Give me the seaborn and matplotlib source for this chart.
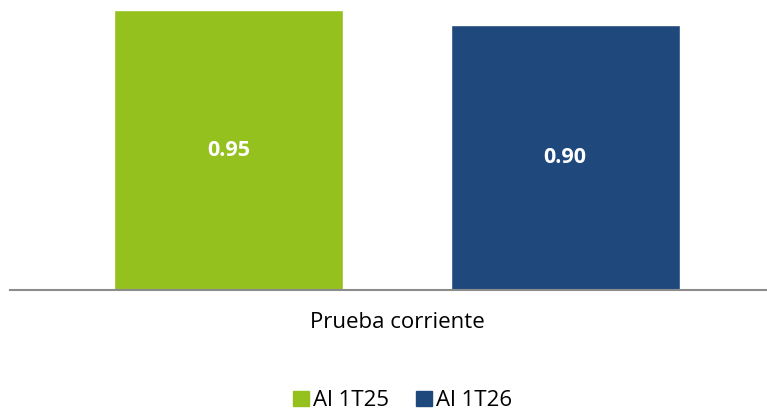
import pandas as pd
import seaborn as sns
import matplotlib.pyplot as plt

# data
categories = ['Prueba corriente']
series = ['Al 1T25', 'Al 1T26']
values = [0.95, 0.90]
colors = ['#95C11F', '#1F497D']

df = pd.DataFrame({
    'categoria': categories * len(series),
    'serie': series,
    'valor': values,
})

sns.set_theme(style='white')
plt.rcParams['font.family'] = ['Open Sans', 'DejaVu Sans']

fig = plt.figure(figsize=(7.67, 4.12), dpi=100)
ax = fig.add_axes([10 / 767, 1 - 290 / 412, 757 / 767, 290 / 412])

sns.barplot(data=df, x='categoria', y='valor', hue='serie',
            palette=colors, saturation=1, width=0.8, gap=0.32, ax=ax,
            legend=False)

# white bold value labels in the middle of each bar
for cont in ax.containers:
    ax.bar_label(cont, fmt='%.2f', label_type='center', color='white',
                 fontsize=15.5, fontweight='bold')

ax.set_xlim(-0.46, 0.44)
ax.set_ylim(0, 0.95 * 290 / 280)
ax.set_xlabel('')
ax.set_ylabel('')
ax.set_yticks([])
ax.tick_params(axis='x', length=0, pad=16, labelsize=16, labelcolor='black')
for s in ['top', 'left', 'right']:
    ax.spines[s].set_visible(False)
ax.spines['bottom'].set_color('#8c8c8c')
ax.spines['bottom'].set_linewidth(1.5)

handles = [plt.Rectangle((0, 0), 1, 1, color=c) for c in colors]
leg = fig.legend(handles, series, loc='center', bbox_to_anchor=(0.525, 0.027),
                 ncol=2, frameon=False, fontsize=16, handlelength=0.7,
                 handleheight=0.7, handletextpad=0.2, columnspacing=1.2,
                 borderpad=0)
for t in leg.get_texts():
    t.set_color('black')

plt.savefig('out.png', dpi=100)
